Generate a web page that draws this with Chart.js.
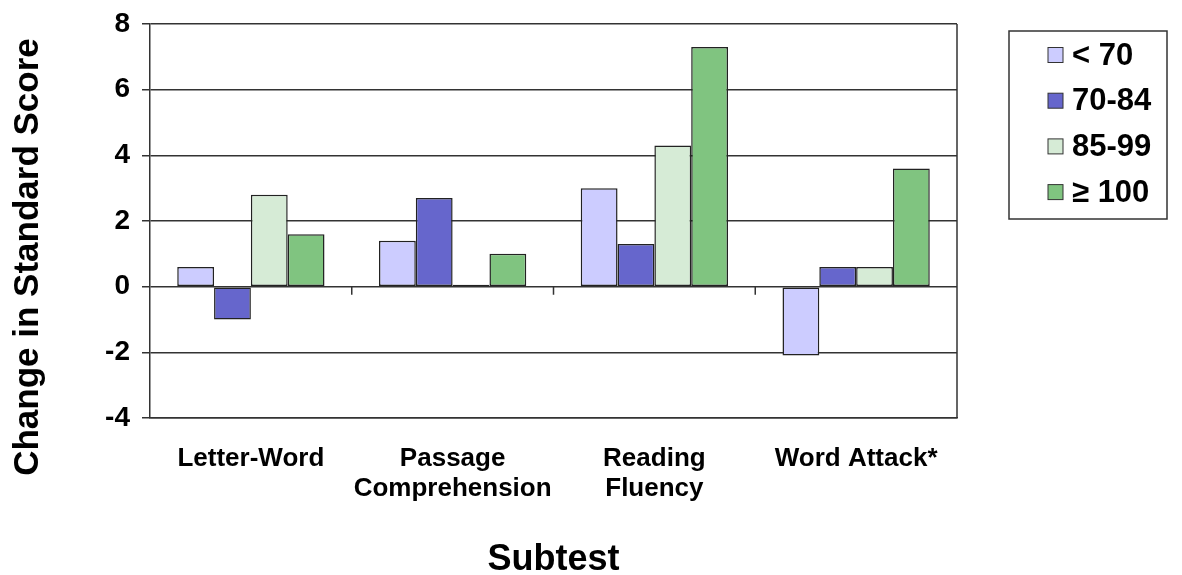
<!DOCTYPE html>
<html>
<head>
<meta charset="utf-8">
<script src="https://cdn.jsdelivr.net/npm/chart.js@4.4.1/dist/chart.umd.min.js"></script>
<style>
  html, body { margin: 0; padding: 0; background: #fff; }
  #wrap { width: 1182px; height: 575px; }
</style>
</head>
<body>
<div id="wrap"><canvas id="chart" width="1182" height="575"></canvas></div>
<script>
// ── Data ─────────────────────────────────────────────────────────────────────
const subtests = [["Letter-Word"], ["Passage", "Comprehension"], ["Reading", "Fluency"], ["Word Attack*"]];
const groups   = ["< 70", "70-84", "85-99", "\u2265 100"];
const below70  = [0.6, 1.4, 3.0, -2.1];
const mid70_84 = [-1.0, 2.7, 1.3, 0.6];
const mid85_99 = [2.8, 0.06, 4.3, 0.6];
const over100  = [1.6, 1.0, 7.3, 3.6];
const yTicks   = { min: -4, max: 8, step: 2 };
const yTitle   = "Change in Standard Score";

const COLORS = ["#CCCCFF", "#6666CC", "#D6EBD6", "#80C480"];
const FONT = "Arial, 'Liberation Sans', sans-serif";

// ── Plot frame: right border + small x ticks on the zero line ───────────────
const framePlugin = {
  id: "frame",
  afterDraw(chart) {
    const { ctx, chartArea: a, scales: { x, y } } = chart;
    ctx.save();
    ctx.strokeStyle = "#333";
    ctx.lineWidth = 1.5;
    ctx.beginPath();
    ctx.moveTo(a.right, a.top);
    ctx.lineTo(a.right, a.bottom);
    const y0 = y.getPixelForValue(0);
    for (let i = 1; i < subtests.length; i++) {
      const xb = (x.getPixelForValue(i - 1) + x.getPixelForValue(i)) / 2;
      ctx.moveTo(xb, y0);
      ctx.lineTo(xb, y0 + 8);
    }
    ctx.stroke();

    // y axis title sits lower than the plot centre in the original
    ctx.translate(28, 257);
    ctx.rotate(-Math.PI / 2);
    ctx.font = "bold 35px " + FONT;
    ctx.textAlign = "center";
    ctx.textBaseline = "middle";
    ctx.fillStyle = "#000";
    ctx.fillText(yTitle, 0, 0);
    ctx.restore();
  }
};

// ── Boxed legend at the top right ────────────────────────────────────────────
const legendPlugin = {
  id: "boxLegend",
  afterDraw(chart) {
    const { ctx } = chart;
    ctx.save();
    ctx.strokeStyle = "#333";
    ctx.lineWidth = 1.5;
    ctx.strokeRect(1009, 31, 158, 188);
    ctx.font = "bold 31px " + FONT;
    ctx.textBaseline = "middle";
    chart.data.datasets.forEach((ds, i) => {
      const cy = 55 + i * 45.7;
      ctx.fillStyle = ds.backgroundColor;
      ctx.fillRect(1048, cy - 7.5, 15, 15);
      ctx.strokeStyle = "#333";
      ctx.lineWidth = 1;
      ctx.strokeRect(1048, cy - 7.5, 15, 15);
      ctx.fillStyle = "#000";
      ctx.fillText(ds.label, 1072, cy + 1);
    });
    ctx.restore();
  }
};

const series = [below70, mid70_84, mid85_99, over100];

new Chart(document.getElementById("chart"), {
  type: "bar",
  data: {
    labels: subtests,
    datasets: series.map((vals, i) => ({
      label: groups[i],
      data: vals,
      backgroundColor: COLORS[i],
      borderColor: "#222",
      borderWidth: 1.5,
      borderSkipped: false,
      categoryPercentage: 0.73,
      barPercentage: 1.0,
    }))
  },
  options: {
    responsive: false,
    animation: false,
    layout: { padding: { top: 24, right: 225, bottom: 0, left: 0 } },
    plugins: {
      legend: { display: false },
      tooltip: { enabled: false }
    },
    scales: {
      x: {
        grid: { display: false, drawTicks: false },
        border: { display: true, color: "#333", width: 1.5 },
        ticks: {
          color: "#000",
          padding: 25,
          maxRotation: 0,
          autoSkip: false,
          font: { family: FONT, size: 26, weight: "bold", lineHeight: 1.18 }
        },
        title: {
          display: true,
          text: "Subtest",
          color: "#000",
          padding: 0,
          font: { family: FONT, size: 36, weight: "bold", lineHeight: 0.85 }
        },
        afterFit(scale) { scale.height = 157; }
      },
      y: {
        min: yTicks.min,
        max: yTicks.max,
        grid: { color: "#333", lineWidth: 1.5, tickLength: 8, drawTicks: true },
        border: { display: true, color: "#333", width: 1.5 },
        ticks: {
          stepSize: yTicks.step,
          color: "#000",
          padding: 12,
          font: { family: FONT, size: 28, weight: "bold", lineHeight: 0.8 }
        },
        title: { display: false },
        afterFit(scale) { scale.width = 150; }
      }
    }
  },
  plugins: [framePlugin, legendPlugin]
});
</script>
</body>
</html>
